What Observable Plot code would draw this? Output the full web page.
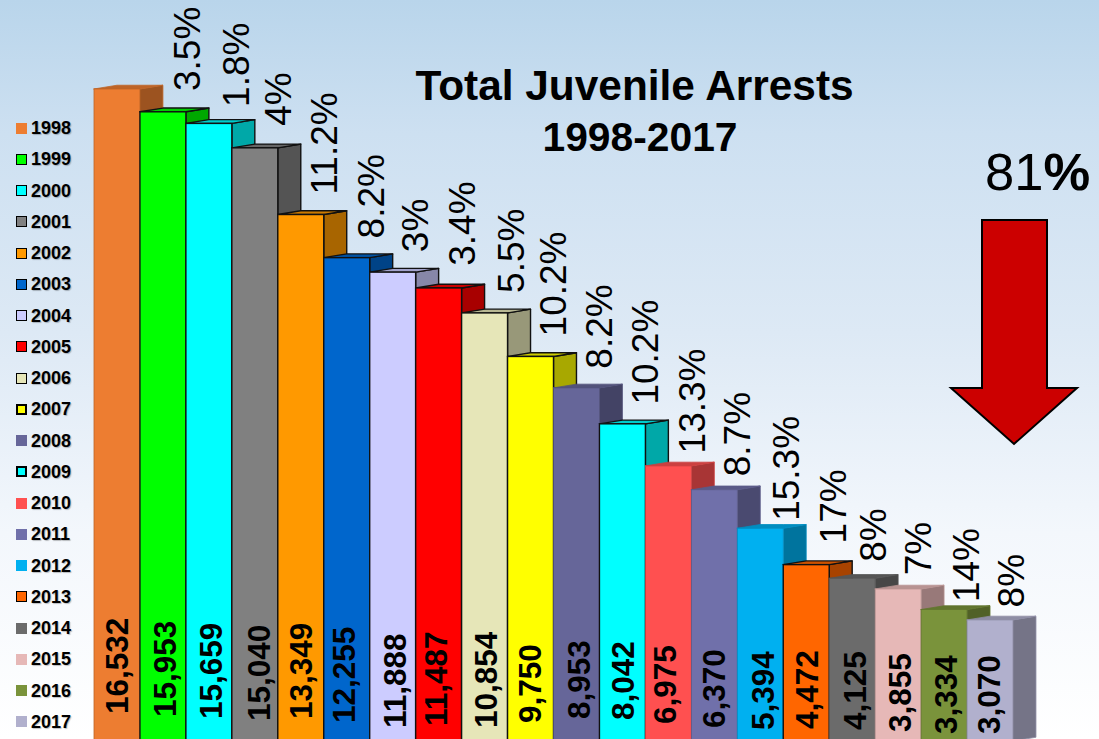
<!DOCTYPE html>
<html>
<head>
<meta charset="utf-8">
<script src="https://cdn.jsdelivr.net/npm/d3@7"></script>
<script src="https://cdn.jsdelivr.net/npm/@observablehq/plot@0.6"></script>
<style>
  html, body { margin: 0; padding: 0; }
  body {
    width: 1099px; height: 739px; overflow: hidden; position: relative;
    font-family: "Liberation Sans", Arial, sans-serif;
    background: linear-gradient(180deg, #b9d5eb 0%, #cde0f1 18%, #dde9f5 45%, #f3f7fc 72%, #ffffff 100%);
  }
  #chart { position: absolute; left: 0; top: 0; }
  #chart svg { background: transparent; display: block; }
  .title { position: absolute; font-weight: bold; color: #000; white-space: nowrap; text-align: center; transform: translateX(-50%); }
  #legend { position: absolute; left: 0; top: 0; }
  .row { position: absolute; left: 16px; height: 20px; display: flex; align-items: center; font-weight: bold; font-size: 18px; line-height: 20px; color: #000; text-shadow: 1px 1px 1px rgba(0,0,0,.25); }
  .sw { width: 11px; height: 11px; box-sizing: border-box; margin-right: 4px; flex: none; }
  #drop { position: absolute; left: 985px; top: 145px; font-size: 52.5px; line-height: 54px; white-space: nowrap; color: #000; }
  #drop b { font-weight: bold; }
  #arrow { position: absolute; left: 940px; top: 210px; }
</style>
</head>
<body>
<div id="chart"></div>
<div id="legend"></div>
<div class="title" style="left:634.5px;top:62px;font-size:42.4px;line-height:48px;">Total Juvenile Arrests</div>
<div class="title" style="left:640px;top:113px;font-size:40.8px;line-height:48px;">1998-2017</div>
<div id="drop">81<b>%</b></div>
<svg id="arrow" width="150" height="245" viewBox="940 210 150 245">
  <path d="M982 220H1047V388H1077L1014 444L951 388H982Z" fill="#cc0000" stroke="#000" stroke-width="2" stroke-linejoin="miter"/>
</svg>
<script>
const years = d3.range(1998, 2018);
const arrests = [16532,15953,15659,15040,13349,12255,11888,11487,10854,9750,8953,8042,6975,6370,5394,4472,4125,3855,3334,3070];
const pctLabels = ["3.5%","1.8%","4%","11.2%","8.2%","3%","3.4%","5.5%","10.2%","8.2%","10.2%","13.3%","8.7%","15.3%","17%","8%","7%","14%","8%"];
const colors = ["#ed7d31","#00ff00","#00ffff","#808080","#ff9900","#0066cc","#ccccff","#ff0000","#e6e6b8","#ffff00","#666699","#00ffff","#ff5050","#7070aa","#00b0f0","#ff6600","#6b6b6b","#e6b8b7","#7a933b","#b1b0cd"];
const outlined = [1999,2000,2001,2002,2003,2004,2005,2006,2007,2009,2013];
// placement tweaks of the hand-set labels
const pctLift = [540,430,570,520,500,520,575,520,520,500,500,330,355,200,550,430,360,200,330];
const pctNudge = [2,5,1,1,2,0,1.5,4,0,0,0,1,0,3,4,-1,-2,0,-1];
const valueFloor = [695,619,568,518,568,467,340,391,340,467,568,543,442,340,290,315,290,239,188,188];
const valueNudge = [0,2,3,5,1,-2,3,-2,2,0,2.5,1,-3,0,3,1,3,2,2,-1];
const depthX = 0.5, depthY = 95, band = 45.95;

const shade = (c, k) => { const r = d3.rgb(c); return d3.rgb(r.r * k, r.g * k, r.b * k).formatHex(); };
const rows = years.map((year, i) => ({year, i, v: arrests[i], color: colors[i], line: outlined.includes(year)}));

const barMarks = rows.flatMap(d => {
  const edge = d.line ? "#111" : shade(d.color, 0.8);
  const w = d.line ? 1.4 : 0.8;
  const side = [
    {x: d.i + 1, y1: 0, y2: d.v},
    {x: d.i + 1 + depthX, y1: depthY, y2: d.v + depthY}
  ];
  const top = [
    {x: d.i, y1: d.v, y2: d.v},
    {x: d.i + depthX, y1: d.v, y2: d.v + depthY},
    {x: d.i + 1, y1: d.v, y2: d.v + depthY},
    {x: d.i + 1 + depthX, y1: d.v + depthY, y2: d.v + depthY}
  ];
  return [
    Plot.areaY(side, {x: "x", y1: "y1", y2: "y2", fill: shade(d.color, 0.66), stroke: edge, strokeWidth: w}),
    Plot.areaY(top, {x: "x", y1: "y1", y2: "y2", fill: shade(d.color, 0.8), stroke: edge, strokeWidth: w}),
    Plot.rect([d], {x1: "i", x2: r => r.i + 1, y1: 0, y2: "v", fill: "color", stroke: edge, strokeWidth: w, inset: 0})
  ];
});

const plot = Plot.plot({
  width: 1099, height: 739, margin: 0,
  style: {background: "transparent", overflow: "hidden"},
  x: {type: "linear", domain: [0, 20], range: [94, 1013], axis: null},
  y: {type: "linear", domain: [0, 18788], range: [741, 0], axis: null},
  marks: [
    ...barMarks,
    Plot.text(rows, {
      x: d => d.i + 0.5 + valueNudge[d.i] / band, y: d => valueFloor[d.i],
      text: d => d3.format(",")(d.v), rotate: -90, textAnchor: "start", lineAnchor: "middle",
      fontSize: 31.5, fontWeight: "bold", fontFamily: "Liberation Sans, Arial, sans-serif", fill: "#000"
    }),
    Plot.text(rows.slice(1), {
      x: d => d.i + 1 + pctNudge[d.i - 1] / band, y: d => d.v + pctLift[d.i - 1],
      text: d => pctLabels[d.i - 1], rotate: -90, textAnchor: "start", lineAnchor: "middle",
      fontSize: 37, fontFamily: "Liberation Sans, Arial, sans-serif", fill: "#000"
    })
  ]
});
document.getElementById("chart").append(plot);

const legend = document.getElementById("legend");
rows.forEach(d => {
  const row = document.createElement("div");
  row.className = "row";
  row.style.top = (118 + d.i * 31.26) + "px";
  const sw = document.createElement("span");
  sw.className = "sw";
  sw.style.background = d.color;
  if (d.line) sw.style.border = (d.year === 2007 || d.year === 2009 ? "2px" : "1.5px") + " solid #000";
  row.append(sw, String(d.year));
  legend.append(row);
});
</script>
</body>
</html>
